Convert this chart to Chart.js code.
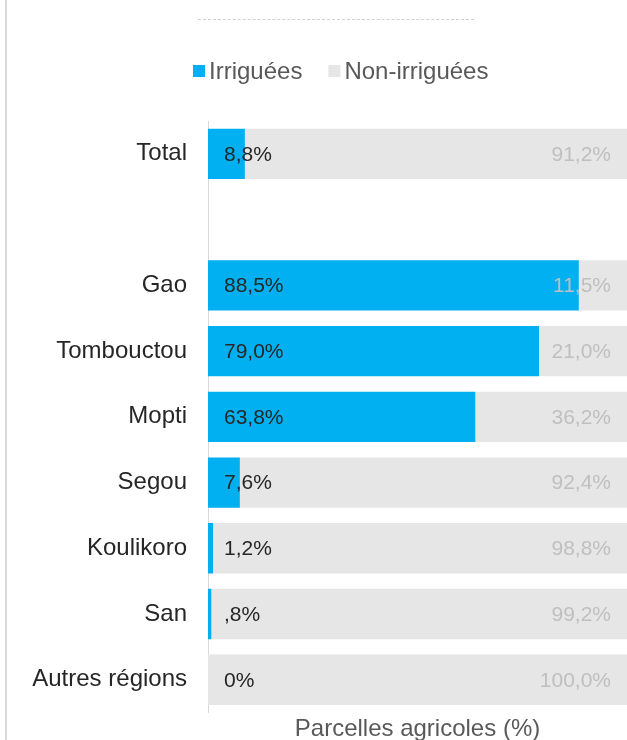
<!DOCTYPE html>
<html>
<head>
<meta charset="utf-8">
<script src="https://cdn.jsdelivr.net/npm/chart.js@4.4.1/dist/chart.umd.min.js"></script>
<style>
  html, body { margin: 0; padding: 0; background: #ffffff; }
  #wrap { position: relative; width: 627px; height: 740px; overflow: hidden; }
  #frame { position: absolute; left: 5px; top: 0; width: 2px; height: 740px; background: #d9d9d9; }
  #dash { position: absolute; left: 198px; top: 19px; width: 276px; height: 0; border-top: 1px dashed #d0d0d0; }
  canvas { position: absolute; left: 0; top: 0; }
</style>
</head>
<body>
<div id="wrap">
  <div id="frame"></div>
  <div id="dash"></div>
  <canvas id="c" width="627" height="748"></canvas>
</div>
<script>
const categories = ["Total", "", "Gao", "Tombouctou", "Mopti", "Segou", "Koulikoro", "San", "Autres régions"];
const irrigated = [8.8, null, 88.5, 79.0, 63.8, 7.6, 1.2, 0.8, 0];
const nonIrrigated = [91.2, null, 11.5, 21.0, 36.2, 92.4, 98.8, 99.2, 100.0];
const irrigatedLabels = ["8,8%", "", "88,5%", "79,0%", "63,8%", "7,6%", "1,2%", ",8%", "0%"];
const nonIrrigatedLabels = ["91,2%", "", "11,5%", "21,0%", "36,2%", "92,4%", "98,8%", "99,2%", "100,0%"];
const seriesNames = ["Irriguées", "Non-irriguées"];
const seriesColors = ["#00b0f0", "#e6e6e6"];
const axisTitle = "Parcelles agricoles (%)";

const FONT = "'Liberation Sans', Arial, sans-serif";

// Legend drawn on the canvas from the chart's own datasets
const customLegend = {
  id: 'customLegend',
  afterDraw(chart) {
    const ctx = chart.ctx;
    ctx.save();
    ctx.font = "24px " + FONT;
    ctx.textBaseline = 'middle';
    ctx.textAlign = 'left';
    let x = 193;
    const yc = 71;
    chart.data.datasets.forEach((ds) => {
      ctx.fillStyle = ds.backgroundColor;
      ctx.fillRect(x, yc - 6, 12, 12);
      x += 16;
      ctx.fillStyle = '#595959';
      ctx.fillText(ds.label, x, yc + 1);
      x += ctx.measureText(ds.label).width + 26;
    });
    ctx.restore();
  }
};

const barLabels = {
  id: 'barLabels',
  afterDatasetsDraw(chart) {
    const ctx = chart.ctx;
    const area = chart.chartArea;
    ctx.save();
    ctx.font = "21px " + FONT;
    ctx.textBaseline = 'middle';
    const m0 = chart.getDatasetMeta(0);
    const m1 = chart.getDatasetMeta(1);
    m0.data.forEach((el, i) => {
      const t = irrigatedLabels[i];
      if (!t) return;
      ctx.fillStyle = '#262626';
      ctx.textAlign = 'left';
      ctx.fillText(t, area.left + 16, el.y + 1);
    });
    m1.data.forEach((el, i) => {
      const t = nonIrrigatedLabels[i];
      if (!t) return;
      ctx.fillStyle = '#bfbfbf';
      ctx.textAlign = 'right';
      ctx.fillText(t, area.right - 16, el.y + 1);
    });
    ctx.restore();
  }
};

new Chart(document.getElementById('c'), {
  type: 'bar',
  data: {
    labels: categories,
    datasets: [
      { label: seriesNames[0], data: irrigated, backgroundColor: seriesColors[0], borderWidth: 0,
        barPercentage: 0.765, categoryPercentage: 1.0 },
      { label: seriesNames[1], data: nonIrrigated, backgroundColor: seriesColors[1], borderWidth: 0,
        barPercentage: 0.765, categoryPercentage: 1.0 }
    ]
  },
  options: {
    indexAxis: 'y',
    responsive: false,
    animation: false,
    maintainAspectRatio: false,
    layout: { padding: { top: 121, right: 0, bottom: 0, left: 0 } },
    scales: {
      x: {
        stacked: true,
        min: 0, max: 100,
        grid: { display: false, drawTicks: false },
        border: { display: false },
        ticks: { display: false },
        title: { display: true, text: axisTitle, color: '#595959',
                 font: { family: FONT, size: 24 }, padding: { top: 2, bottom: 0 } }
      },
      y: {
        stacked: true,
        grid: { display: false, drawTicks: false },
        border: { display: true, color: '#d9d9d9', width: 1 },
        ticks: { color: '#262626', font: { family: FONT, size: 24 }, padding: 21 },
        afterFit(scale) { scale.width = 208; }
      }
    },
    plugins: {
      legend: { display: false },
      tooltip: { enabled: false },
      title: { display: false }
    }
  },
  plugins: [customLegend, barLabels]
});
</script>
</body>
</html>
